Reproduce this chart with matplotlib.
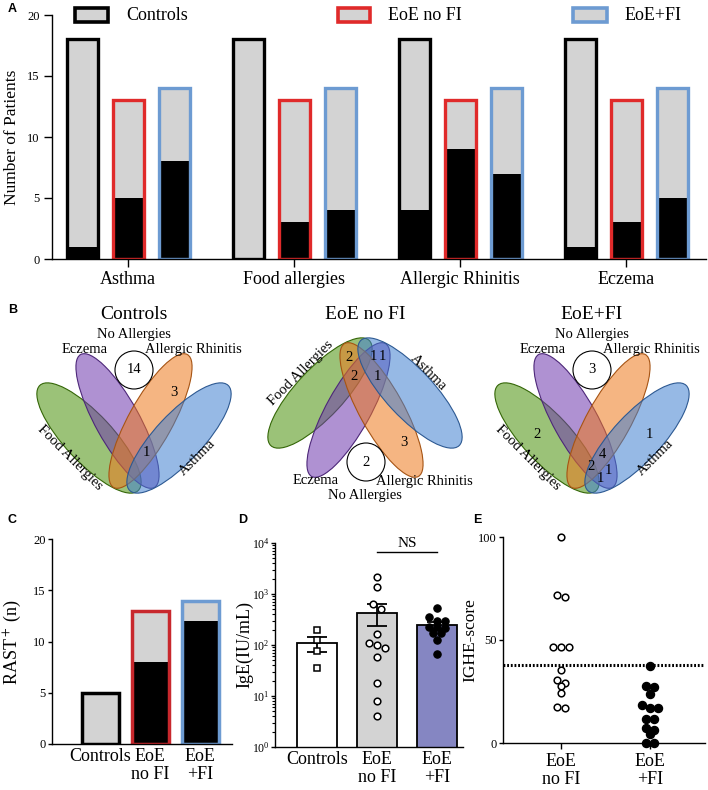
import numpy as np
import matplotlib
matplotlib.use('Agg')
import matplotlib.pyplot as plt
from matplotlib.patches import Ellipse, Circle, Rectangle
from matplotlib.ticker import LogLocator, NullFormatter

plt.rcParams['font.family'] = ['Liberation Serif', 'DejaVu Serif']
plt.rcParams['mathtext.fontset'] = 'stix'
plt.rcParams['axes.linewidth'] = 1.0

# ---- data ----
conditions = ['Asthma', 'Food allergies', 'Allergic Rhinitis', 'Eczema']
groups = ['Controls', 'EoE no FI', 'EoE+FI']
group_totals = [18, 13, 14]
controls_pos = [1, 0, 4, 1]
nofi_pos = [5, 3, 9, 3]
fi_pos = [8, 4, 7, 5]

rast_labels = ['Controls', 'EoE\nno FI', 'EoE\n+FI']
rast_total = [5, 13, 14]
rast_positive = [0, 8, 12]

ige_controls = [196, 125, 77, 36]
ige_nofi = [2130, 1390, 630, 500, 165, 111, 100, 89, 59, 18, 8.1, 4.1]
ige_fi = [525, 349, 295, 295, 229, 229, 212, 169, 169, 125, 66]

ighe_labels = ['EoE\nno FI', 'EoE\n+FI']
ighe_nofi = [100, 72, 71, 46.5, 46.5, 46.5, 35.4, 30.6, 29.3, 27.7, 24.1, 17.6, 17.1]
ighe_fi = [37.5, 27.8, 27.3, 23.6, 18.4, 17.1, 16.8, 11.7, 11.7, 7.1, 6.3, 4.4, 0, 0]
ighe_cutoff = 38

venn_sets = ['Food Allergies', 'Eczema', 'Allergic Rhinitis', 'Asthma']
venn_controls_regions = ['none', 'AR', 'E+AR+A']
venn_controls_counts = [14, 3, 1]
venn_nofi_regions = ['none', 'FA+AR', 'FA+E+A', 'E+A', 'FA+E+AR', 'E+AR+A', 'AR']
venn_nofi_counts = [2, 2, 1, 1, 2, 1, 3]
venn_fi_regions = ['none', 'FA', 'A', 'all', 'FA+E+AR', 'E+AR+A', 'FA+AR+A']
venn_fi_counts = [3, 2, 1, 4, 2, 1, 1]

# ---- layout (pixels) ----
W, H = 708, 790
fig = plt.figure(figsize=(W / 100, H / 100), dpi=100)


def px_axes(x0, y0, x1, y1):
    return fig.add_axes([x0 / W, 1 - y1 / H, (x1 - x0) / W, (y1 - y0) / H])


def swarm_x(ax, xc, vals, spacing, gap):
    vals = np.asarray(vals, float)
    d = ax.transData.transform(np.column_stack([np.full(len(vals), xc), vals]))
    yd = d[:, 1]
    rows = []
    for i in np.argsort(-yd, kind='stable'):
        if rows and abs(yd[rows[-1][0]] - yd[i]) < gap:
            rows[-1].append(i)
        else:
            rows.append([i])
    xd = d[:, 0].copy()
    for r in rows:
        for k, i in enumerate(r):
            xd[i] += (k - (len(r) - 1) / 2) * spacing
    return ax.transData.inverted().transform(np.column_stack([xd, yd]))[:, 0]


def style(ax, tl=5, pad=3):
    for s in ['top', 'right']:
        ax.spines[s].set_visible(False)
    ax.tick_params(axis='both', length=tl, width=1, labelsize=9, pad=pad)


gray = '#d3d3d3'
edge_a = ['black', '#e02a2a', '#6d9bd2']

# ---- A ----
axA = px_axes(52, 15, 706, 259)
xA = np.arange(len(conditions))
offs = [-0.277, 0, 0.277]
bw = 0.187
for gi, pos in enumerate([controls_pos, nofi_pos, fi_pos]):
    xs = xA + offs[gi]
    tot = [group_totals[gi]] * len(conditions)
    axA.bar(xs, tot, bw, color=gray, lw=0)
    axA.bar(xs, pos, bw, color='black', lw=0)
    axA.bar(xs, tot, bw, fill=False, edgecolor=edge_a[gi], lw=2.4)
axA.set_ylim(0, 20)
axA.set_xlim(-0.458, 3.48)
axA.set_yticks([0, 5, 10, 15, 20])
axA.set_xticks(xA)
axA.set_xticklabels(conditions, fontsize=13)
style(axA, tl=6)
axA.tick_params(axis='x', labelsize=13)
axA.set_ylabel('Number of Patients', fontsize=12.5)
axA.yaxis.set_label_coords(-0.049, 0.5)

leg_box = [(75, 108), (338, 370), (573, 607)]
for gi, g in enumerate(groups):
    x0, x1 = leg_box[gi]
    fig.patches.append(Rectangle((x0 / W, 1 - 22 / H), (x1 - x0) / W, 14 / H,
                                 transform=fig.transFigure, facecolor=gray,
                                 edgecolor=edge_a[gi], lw=2.6))
    fig.text((x1 + 18) / W, 1 - 15 / H, g, fontsize=13, va='center')

# ---- B (venn) ----
axB = fig.add_axes([0, 1 - 530 / H, 1, 240 / H])
axB.set_xlim(0, W)
axB.set_ylim(530, 290)
axB.axis('off')

venn_colors = [(0.29, 0.57, 0.04), (0.43, 0.22, 0.68), (0.93, 0.47, 0.11), (0.25, 0.50, 0.82)]
ell_tpl = [(-45, 438, 47, 144, 48), (-16.5, 421, 61, 152, 44),
           (16.5, 421, 119, 152, 44), (45, 438, 133, 144, 48)]
FLIP = 831

pos_controls = {'none': (0, 370), 'AR': (40, 392), 'E+AR+A': (12, 453)}
pos_nofi = {'none': (1, 462), 'FA+AR': (-16, 358), 'FA+E+A': (8, 357), 'E+A': (17, 357),
            'FA+E+AR': (-11, 377), 'E+AR+A': (12, 377), 'AR': (39, 442)}
pos_fi = {'none': (0, 370), 'FA': (-55, 435), 'A': (57, 434), 'all': (10, 454),
          'FA+E+AR': (-1, 466), 'E+AR+A': (16, 470), 'FA+AR+A': (8, 478)}


def draw_venn(cx, flip, title, regions, counts, pos):
    fy = (lambda y: FLIP - y) if flip else (lambda y: y)
    for (dx, y, ang, w, h), c in zip(ell_tpl, venn_colors):
        axB.add_patch(Ellipse((cx + dx, fy(y)), w, h, angle=-ang if flip else ang,
                              facecolor=(*c, 0.55),
                              edgecolor=tuple(v * 0.7 for v in c), lw=0.8))
    axB.text(cx, 315, title, fontsize=14, ha='center', va='center')
    axB.text(cx, fy(335), 'No Allergies', fontsize=10.5, ha='center', va='center')
    axB.text(cx - 49, fy(350), venn_sets[1], fontsize=10.5, ha='center', va='center')
    axB.text(cx + 59, fy(350), venn_sets[2], fontsize=10.5, ha='center', va='center')
    axB.text(cx - 64, fy(458), venn_sets[0], fontsize=10.5, ha='center', va='center',
             rotation=45 if flip else -45)
    axB.text(cx + 63, fy(458), venn_sets[3], fontsize=10.5, ha='center', va='center',
             rotation=-45 if flip else 45)
    for r, n in zip(regions, counts):
        dx, y = pos[r]
        if r == 'none':
            axB.add_patch(Circle((cx + dx, y), 19, facecolor='none', edgecolor='black', lw=0.8))
        axB.text(cx + dx, y, str(n), fontsize=10.5, ha='center', va='center')


draw_venn(134, False, groups[0], venn_controls_regions, venn_controls_counts, pos_controls)
draw_venn(365, True, groups[1], venn_nofi_regions, venn_nofi_counts, pos_nofi)
draw_venn(592, False, groups[2], venn_fi_regions, venn_fi_counts, pos_fi)

# ---- C ----
axC = px_axes(52, 539, 232, 744)
xC = np.arange(3)
edge_c = ['black', '#c8282d', '#6d9bd2']
axC.bar(xC, rast_total, 0.74, color=gray, lw=0)
axC.bar(xC, rast_positive, 0.74, color='black', lw=0)
axC.bar(xC, rast_total, 0.74, fill=False, edgecolor=edge_c, lw=2.5)
axC.set_xlim(-0.96, 2.64)
axC.set_ylim(0, 20)
axC.set_yticks([0, 5, 10, 15, 20])
axC.set_xticks(xC)
axC.set_xticklabels(rast_labels, fontsize=13, linespacing=1.1)
style(axC, tl=3, pad=1.5)
axC.tick_params(axis='x', length=0, labelsize=13, pad=3)
axC.set_ylabel('RAST$^+$ (n)', fontsize=13)
axC.yaxis.set_label_coords(-0.161, 0.5)

# ---- D ----
axD = px_axes(275, 543, 463, 747)
axD.set_yscale('log')
axD.set_ylim(1, 1e4)
axD.set_xlim(-0.7, 2.43)
ige_sets = [ige_controls, ige_nofi, ige_fi]
means = [np.mean(v) for v in ige_sets]
sems = [np.std(v, ddof=1) / np.sqrt(len(v)) for v in ige_sets]
xD = np.arange(3)
axD.bar(xD, means, 0.667, color=['white', gray, '#8586c2'], edgecolor='black', lw=1.3, zorder=1)
axD.errorbar(xD, means, yerr=sems, fmt='none', ecolor='black', elinewidth=1.3,
             capsize=7, capthick=1.3, zorder=2)
mk = [dict(marker='s', ms=4.4, mfc='white', mec='black', mew=1.1),
      dict(marker='o', ms=4.8, mfc='white', mec='black', mew=1.1),
      dict(marker='o', ms=5.3, mfc='black', mec='black', mew=0.8)]
for i, v in enumerate(ige_sets):
    xs = swarm_x(axD, xD[i], v, 8, 5.5)
    axD.plot(xs, v, ls='none', zorder=3, clip_on=False, **mk[i])
axD.plot([1, 2], [6600, 6600], color='black', lw=1)
axD.text(1.5, 7200, 'NS', fontsize=11, ha='center', va='bottom')
axD.yaxis.set_major_locator(LogLocator(base=10, numticks=10))
axD.yaxis.set_minor_locator(LogLocator(base=10, subs=np.arange(2, 10), numticks=10))
axD.yaxis.set_minor_formatter(NullFormatter())
axD.set_xticks(xD)
axD.set_xticklabels(rast_labels, fontsize=13, linespacing=1.1)
style(axD, tl=3, pad=1)
axD.tick_params(axis='y', labelsize=8.5)
axD.tick_params(axis='y', which='minor', length=2, width=0.8)
axD.tick_params(axis='x', length=0, labelsize=13, pad=3)
axD.set_ylabel('IgE(IU/mL)', fontsize=13)
axD.yaxis.set_label_coords(-0.115, 0.5)

# ---- E ----
axE = px_axes(503, 537, 705, 743)
axE.set_ylim(0, 100)
axE.set_xlim(-0.65, 1.62)
axE.axhline(ighe_cutoff, color='black', lw=2.2, ls=(0, (0.6, 0.6)), zorder=1)
xs = swarm_x(axE, 0, ighe_nofi, 8, 5.5)
axE.plot(xs, ighe_nofi, ls='none', marker='o', ms=4.8, mfc='white', mec='black', mew=1.1,
         zorder=3, clip_on=False)
xs = swarm_x(axE, 1, ighe_fi, 8.3, 5.5)
axE.plot(xs, ighe_fi, ls='none', marker='o', ms=5.8, mfc='black', mec='black',
         zorder=3, clip_on=False)
axE.set_yticks([0, 50, 100])
axE.set_xticks([0, 1])
axE.set_xticklabels(ighe_labels, fontsize=13, linespacing=1.1)
style(axE, tl=3, pad=1.5)
axE.tick_params(axis='x', length=4, labelsize=13, pad=3)
axE.set_ylabel('IGHE-score', fontsize=12.5)
axE.yaxis.set_label_coords(-0.122, 0.5)

# panel letters
for lab, (x, y) in zip('ABCDE', [(8, 9), (8, 310), (8, 520), (238, 520), (473, 520)]):
    fig.text(x / W, 1 - y / H, lab, fontsize=9, fontweight='bold',
             family='Liberation Sans', va='center')

fig.savefig('out.png', dpi=100)
